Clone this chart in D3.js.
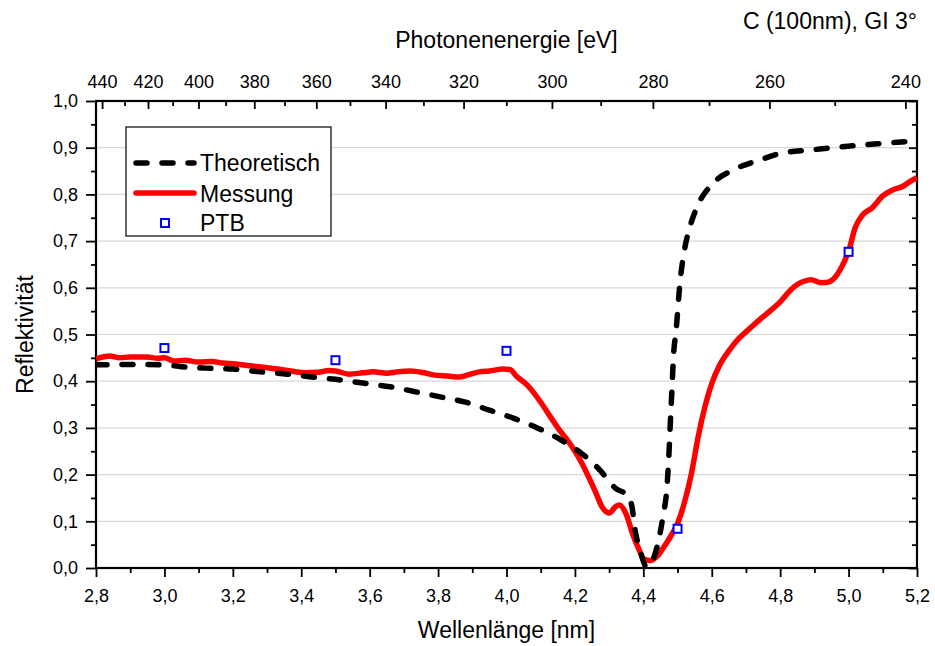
<!DOCTYPE html>
<html>
<head>
<meta charset="utf-8">
<script src="https://cdn.jsdelivr.net/npm/d3@7"></script>
<style>
  body { margin: 0; background: #fff; }
  svg text { font-family: "Liberation Sans", Arial, sans-serif; fill: #000; }
</style>
</head>
<body>
<div id="chart"></div>
<script>
// Wellenlänge [nm] / Reflektivität
var messungLambda = [2.80, 2.84, 2.87, 2.90, 2.95, 2.98, 3.00, 3.03, 3.06, 3.10, 3.14, 3.17, 3.21, 3.25, 3.29, 3.33,
  3.37, 3.41, 3.45, 3.48, 3.50, 3.54, 3.58, 3.61, 3.65, 3.68, 3.72, 3.76, 3.79, 3.83, 3.86, 3.89, 3.92, 3.95, 3.99,
  4.01, 4.03, 4.06, 4.08, 4.10, 4.13, 4.15, 4.18, 4.20, 4.22, 4.24, 4.26, 4.28, 4.30, 4.32, 4.33, 4.35, 4.37, 4.39,
  4.40, 4.42, 4.44, 4.46, 4.48, 4.50, 4.52, 4.54, 4.56, 4.58, 4.60, 4.62, 4.65, 4.68, 4.71, 4.74, 4.77, 4.80, 4.83,
  4.85, 4.87, 4.89, 4.92, 4.94, 4.96, 4.98, 5.00, 5.02, 5.04, 5.07, 5.10, 5.13, 5.16, 5.18, 5.20];
var messungR = [0.448, 0.454, 0.450, 0.452, 0.452, 0.449, 0.450, 0.443, 0.445, 0.441, 0.442, 0.439, 0.437, 0.433, 0.430, 0.426,
  0.422, 0.418, 0.419, 0.423, 0.422, 0.415, 0.418, 0.420, 0.417, 0.420, 0.422, 0.418, 0.413, 0.411, 0.409, 0.414, 0.420, 0.422, 0.426,
  0.425, 0.410, 0.392, 0.375, 0.355, 0.322, 0.300, 0.272, 0.250, 0.225, 0.195, 0.163, 0.130, 0.118, 0.132, 0.135, 0.115, 0.070, 0.035,
  0.020, 0.016, 0.025, 0.045, 0.068, 0.095, 0.140, 0.200, 0.280, 0.345, 0.395, 0.430, 0.465, 0.492, 0.512, 0.532, 0.550, 0.570, 0.595,
  0.607, 0.614, 0.617, 0.611, 0.612, 0.622, 0.645, 0.678, 0.730, 0.755, 0.772, 0.797, 0.810, 0.818, 0.828, 0.836];

var theoLambda = [2.80, 2.90, 3.00, 3.05, 3.12, 3.20, 3.28, 3.36, 3.43, 3.50, 3.58, 3.66, 3.73, 3.81, 3.88, 3.95, 4.02,
  4.09, 4.16, 4.22, 4.27, 4.32, 4.355, 4.367, 4.376, 4.39, 4.41, 4.443, 4.457, 4.469, 4.474, 4.478, 4.484, 4.488, 4.496,
  4.507, 4.52, 4.536, 4.557, 4.604, 4.662, 4.741, 4.808, 4.887, 4.966, 5.042, 5.115, 5.20];
var theoR = [0.435, 0.436, 0.435, 0.431, 0.428, 0.426, 0.420, 0.415, 0.409, 0.404, 0.396, 0.388, 0.378, 0.366, 0.355, 0.338, 0.321,
  0.300, 0.274, 0.245, 0.212, 0.170, 0.155, 0.130, 0.081, 0.039, 0.002, 0.054, 0.109, 0.173, 0.231, 0.296, 0.388, 0.452, 0.510,
  0.610, 0.680, 0.730, 0.773, 0.824, 0.852, 0.874, 0.889, 0.895, 0.901, 0.906, 0.910, 0.915];

var ptbLambda = [3.0, 3.5, 4.0, 4.5, 5.0];
var ptbR = [0.471, 0.445, 0.465, 0.084, 0.677];

var energyTicks = [440, 420, 400, 380, 360, 340, 320, 300, 280, 260, 240];
var energyMinor = [430, 410, 390, 370, 350, 330, 310, 290, 270, 250];
var hc = 1239.84; // eV*nm

var margin = {top: 101, right: 18, bottom: 78, left: 96},
    width = 935 - margin.left - margin.right,
    height = 646 - margin.top - margin.bottom;

var x = d3.scaleLinear().domain([2.8, 5.2]).range([0, width]);
var y = d3.scaleLinear().domain([0, 1]).range([height, 0]);

var fmt = function(d) { return d3.format(".1f")(d).replace(".", ","); };

var svg = d3.select("#chart").append("svg")
    .attr("width", 935)
    .attr("height", 646)
  .append("g")
    .attr("transform", "translate(" + margin.left + "," + margin.top + ")");

svg.append("defs").append("clipPath")
    .attr("id", "clip")
  .append("rect")
    .attr("width", width)
    .attr("height", height);

// grid
svg.selectAll(".grid")
  .data(d3.range(1, 10).map(function(i) { return i / 10; }))
  .enter().append("line")
    .attr("class", "grid")
    .attr("x1", 0)
    .attr("x2", width)
    .attr("y1", function(d) { return y(d); })
    .attr("y2", function(d) { return y(d); })
    .style("stroke", "#d8d8d8")
    .style("stroke-width", 1.2);

// axes
function styleAxis(g, labelSize) {
  g.select(".domain").remove();
  g.selectAll(".tick line").style("stroke", "#000").style("stroke-width", 1.8);
  g.selectAll(".tick text").style("font-size", labelSize).style("font-family", "Liberation Sans, Arial, sans-serif");
}

var xAxis = svg.append("g")
    .attr("transform", "translate(0," + height + ")")
    .call(d3.axisBottom(x).tickValues(d3.range(0, 13).map(function(i) { return 2.8 + i * 0.2; }))
      .tickFormat(fmt).tickSize(9).tickPadding(12));
styleAxis(xAxis, "18px");
svg.append("g")
    .attr("transform", "translate(0," + height + ")")
    .call(d3.axisBottom(x).tickValues(d3.range(0, 12).map(function(i) { return 2.9 + i * 0.2; }))
      .tickFormat("").tickSize(5))
    .call(styleAxis, "18px");

var yAxis = svg.append("g")
    .call(d3.axisLeft(y).ticks(10).tickFormat(fmt).tickSize(10).tickPadding(8));
styleAxis(yAxis, "18px");
svg.append("g")
    .call(d3.axisLeft(y).tickValues(d3.range(0, 10).map(function(i) { return 0.05 + i * 0.1; }))
      .tickFormat("").tickSize(5))
    .call(styleAxis, "18px");

// right axis, ticks inward
svg.append("g")
    .attr("transform", "translate(" + width + ",0)")
    .call(d3.axisRight(y).ticks(10).tickFormat("").tickSize(-8))
    .call(styleAxis, "18px");
svg.append("g")
    .attr("transform", "translate(" + width + ",0)")
    .call(d3.axisRight(y).tickValues(d3.range(0, 10).map(function(i) { return 0.05 + i * 0.1; }))
      .tickFormat("").tickSize(-5))
    .call(styleAxis, "18px");

// top axis: photon energy, ticks inward
var topAxis = svg.append("g")
    .call(d3.axisTop(x).tickValues(energyTicks.map(function(e) { return hc / e; }))
      .tickFormat(function(d) { return Math.round(hc / d); }).tickSize(-8).tickPadding(13));
styleAxis(topAxis, "18px");
svg.append("g")
    .call(d3.axisTop(x).tickValues(energyMinor.map(function(e) { return hc / e; }))
      .tickFormat("").tickSize(-5))
    .call(styleAxis, "18px");

// frame
svg.append("rect")
    .attr("width", width)
    .attr("height", height)
    .style("fill", "none")
    .style("stroke", "#000")
    .style("stroke-width", 2.2);

// curves
var theo = theoLambda.map(function(l, i) { return {l: l, r: theoR[i]}; });
var mess = messungLambda.map(function(l, i) { return {l: l, r: messungR[i]}; });
var ptb = ptbLambda.map(function(l, i) { return {l: l, r: ptbR[i]}; });

var line = d3.line()
    .curve(d3.curveMonotoneX)
    .x(function(d) { return x(d.l); })
    .y(function(d) { return y(d.r); });

var plot = svg.append("g").attr("clip-path", "url(#clip)");

plot.append("path")
    .datum(mess)
    .attr("d", line)
    .style("fill", "none")
    .style("stroke", "#ff0000")
    .style("stroke-width", 5.5)
    .style("stroke-linejoin", "round");

plot.append("path")
    .datum(theo)
    .attr("d", line)
    .style("fill", "none")
    .style("stroke", "#000")
    .style("stroke-width", 5.5)
    .style("stroke-linecap", "round")
    .style("stroke-dasharray", "11,15");

svg.selectAll(".ptb")
  .data(ptb)
  .enter().append("rect")
    .attr("class", "ptb")
    .attr("x", function(d) { return x(d.l) - 4; })
    .attr("y", function(d) { return y(d.r) - 4; })
    .attr("width", 8)
    .attr("height", 8)
    .style("fill", "#fff")
    .style("stroke", "#0000ff")
    .style("stroke-width", 2);

// legend
var legend = svg.append("g").attr("transform", "translate(30,26)");
legend.append("rect")
    .attr("width", 205)
    .attr("height", 109)
    .style("fill", "#fff")
    .style("stroke", "#000")
    .style("stroke-width", 1.2);
legend.append("line")
    .attr("x1", 10).attr("x2", 68).attr("y1", 36).attr("y2", 36)
    .style("stroke", "#000").style("stroke-width", 5.5)
    .style("stroke-linecap", "round").style("stroke-dasharray", "11,15");
legend.append("line")
    .attr("x1", 10).attr("x2", 68).attr("y1", 66).attr("y2", 66)
    .style("stroke", "#ff0000").style("stroke-width", 5.5)
    .style("stroke-linecap", "round");
legend.append("rect")
    .attr("x", 35).attr("y", 92).attr("width", 8).attr("height", 8)
    .style("fill", "#fff").style("stroke", "#0000ff").style("stroke-width", 2);
legend.selectAll(".ltext")
  .data(["Theoretisch", "Messung", "PTB"])
  .enter().append("text")
    .attr("x", 74)
    .attr("y", function(d, i) { return [44, 75, 104][i]; })
    .style("font-size", "23px")
    .text(function(d) { return d; });

// titles
svg.append("text")
    .attr("x", width / 2)
    .attr("y", 646 - margin.top - 8)
    .style("text-anchor", "middle")
    .style("font-size", "23px")
    .text("Wellenlänge [nm]");

svg.append("text")
    .attr("transform", "rotate(-90)")
    .attr("x", -height / 2)
    .attr("y", -63)
    .style("text-anchor", "middle")
    .style("font-size", "23px")
    .text("Reflektivität");

svg.append("text")
    .attr("x", width / 2)
    .attr("y", 48 - margin.top)
    .style("text-anchor", "middle")
    .style("font-size", "23px")
    .text("Photonenenergie [eV]");

svg.append("text")
    .attr("x", width)
    .attr("y", 29 - margin.top)
    .style("text-anchor", "end")
    .style("font-size", "23px")
    .text("C (100nm), GI 3°");
</script>
</body>
</html>
